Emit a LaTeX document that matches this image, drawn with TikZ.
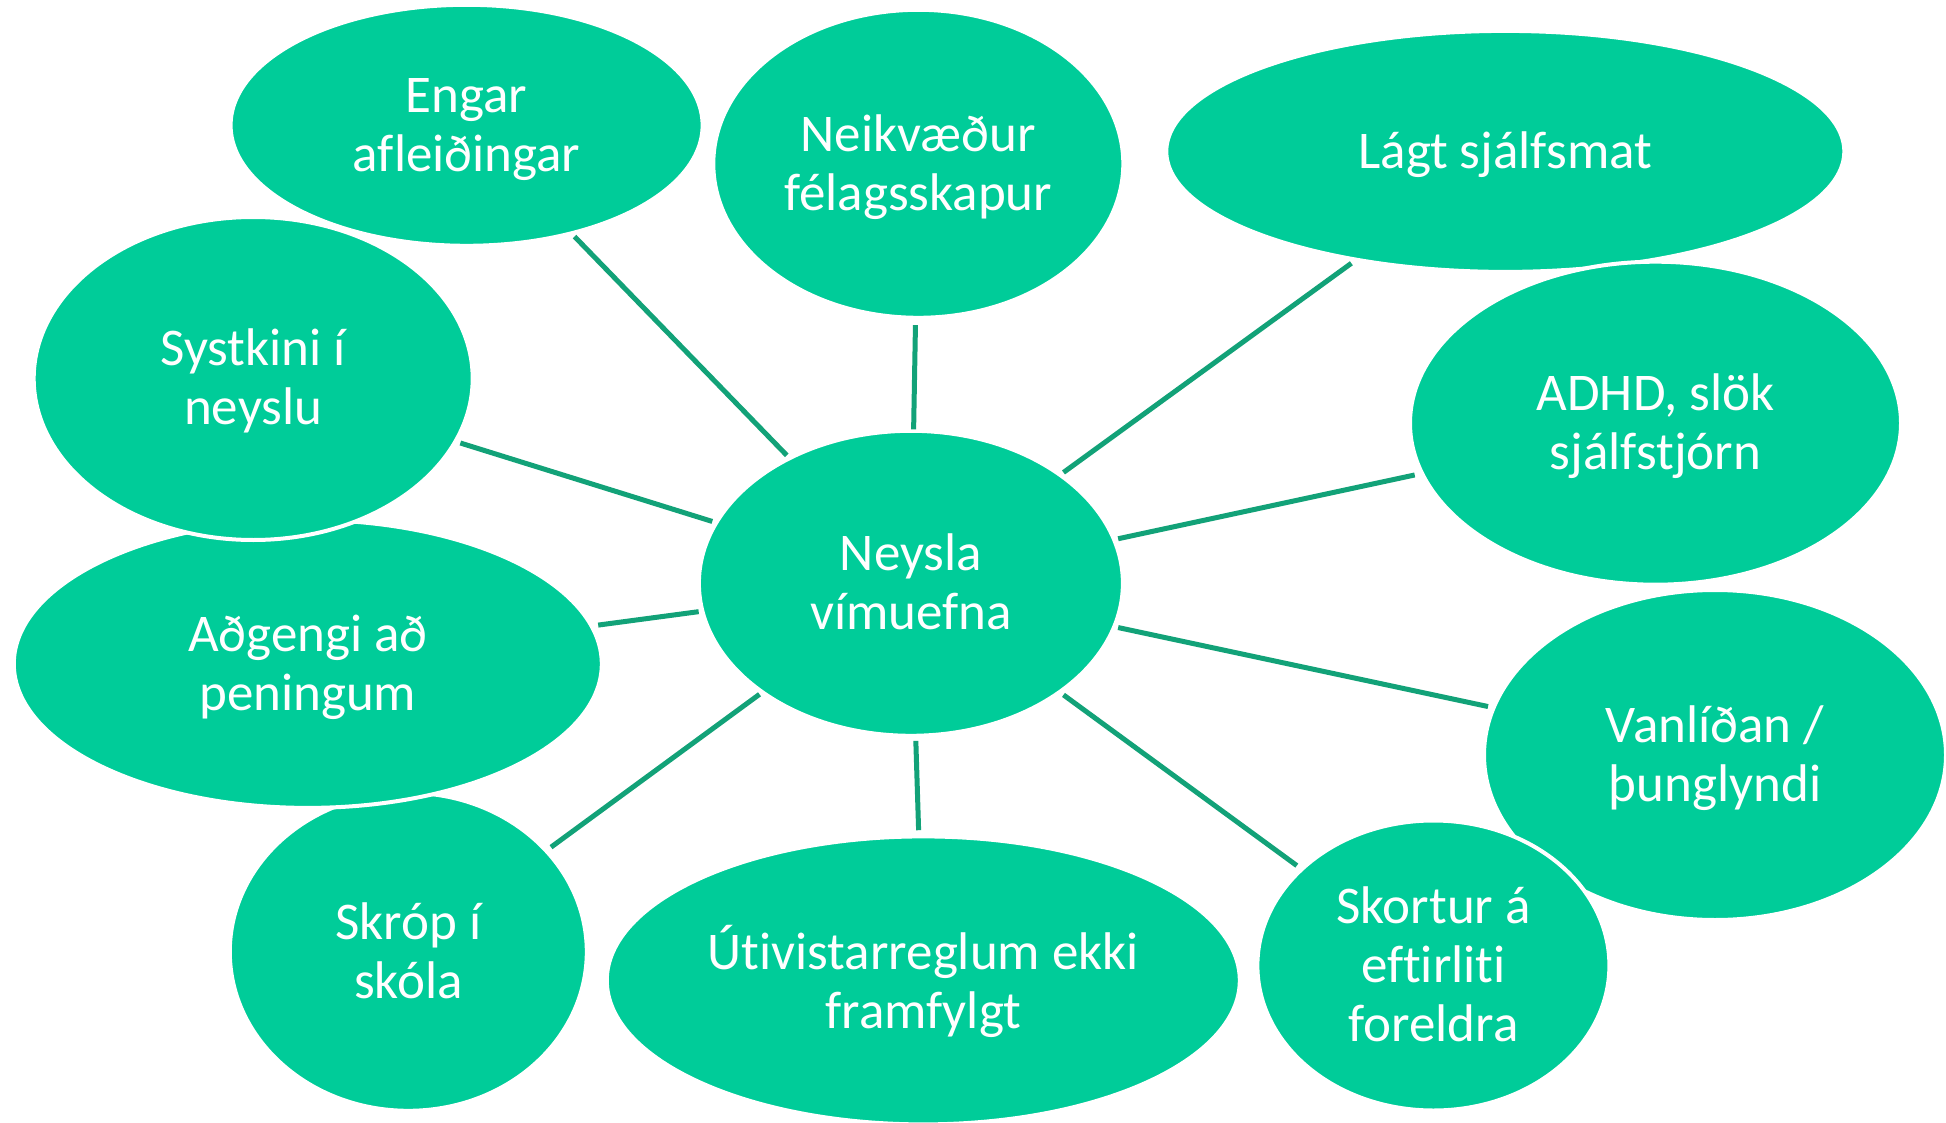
\documentclass[tikz,border=0pt]{standalone}
\usepackage{fontspec}
\setmainfont{Carlito}[Ligatures=NoCommon]
\usetikzlibrary{shapes.geometric,calc}
\definecolor{bubble}{RGB}{0,204,153}
\definecolor{link}{RGB}{18,162,120}
\newcommand{\bubtext}[1]{\raisebox{-5pt}[\height][\depth]{\begin{tabular}{@{}c@{}}#1\end{tabular}}}
\tikzset{
  bub/.style={ellipse, fill=bubble, draw=white, line width=4pt, inner sep=0pt,
    text=white, font=\fontsize{53}{59}\selectfont},
  linkline/.style={draw=link, line width=5pt}
}
\begin{document}
\begin{tikzpicture}[x=1pt,y=-1pt]
\useasboundingbox (0,0) rectangle (1946,1123);
\fill[white] (0,0) rectangle (1946,1123);
% bubbles (drawing order matters for overlaps)
\node[bub, minimum width=357pt, minimum height=318pt] (skrop) at (408.3,951.8) {\bubtext{Skróp í\\skóla}};
\node[bub, minimum width=588pt, minimum height=288pt] (adgengi) at (307.8,663.9) {\bubtext{Aðgengi að\\peningum}};
\node[bub, minimum width=439pt, minimum height=323pt] (systkini) at (253.2,378.5) {\bubtext{Systkini í\\neyslu}};
\node[bub, minimum width=472pt, minimum height=241pt] (engar) at (466.6,125.3) {\bubtext{Engar\\afleiðingar}};
\node[bub, minimum width=410pt, minimum height=308pt] (neikv) at (918.3,163.8) {\bubtext{Neikvæður\\félagsskapur}};
\node[bub, minimum width=678pt, minimum height=241pt] (lagt) at (1505.3,151.4) {\bubtext{Lágt sjálfsmat}};
\node[bub, minimum width=491pt, minimum height=323pt] (adhd) at (1655.5,423.2) {\bubtext{ADHD, slök\\sjálfstjórn}};
\node[bub, minimum width=462pt, minimum height=330pt] (vanl) at (1715,755) {\bubtext{Vanlíðan /\\þunglyndi}};
\node[bub, minimum width=352pt, minimum height=290pt] (skortur) at (1433.4,965.5) {\bubtext{Skortur á\\eftirliti\\foreldra}};
\node[bub, minimum width=633pt, minimum height=288pt] (utivist) at (923.3,980.4) {\bubtext{Útivistarreglum ekki\\framfylgt}};
\node[bub, minimum width=424pt, minimum height=305pt] (neysla) at (910.9,583.3) {\bubtext{Neysla\\vímuefna}};
% connectors
\draw[linkline] ($(neysla.center)!0.2793!(engar.center)$) -- ($(neysla.center)!0.757!(engar.center)$);
\draw[linkline] ($(neysla.center)!0.3669!(neikv.center)$) -- ($(neysla.center)!0.6155!(neikv.center)$);
\draw[linkline] ($(neysla.center)!0.2567!(lagt.center)$) -- ($(neysla.center)!0.741!(lagt.center)$);
\draw[linkline] ($(neysla.center)!0.302!(systkini.center)$) -- ($(neysla.center)!0.685!(systkini.center)$);
\draw[linkline] ($(neysla.center)!0.2783!(adhd.center)$) -- ($(neysla.center)!0.6766!(adhd.center)$);
\draw[linkline] ($(neysla.center)!0.3519!(adgengi.center)$) -- ($(neysla.center)!0.5185!(adgengi.center)$);
\draw[linkline] ($(neysla.center)!0.2577!(vanl.center)$) -- ($(neysla.center)!0.7177!(vanl.center)$);
\draw[linkline] ($(neysla.center)!0.3012!(skrop.center)$) -- ($(neysla.center)!0.716!(skrop.center)$);
\draw[linkline] ($(neysla.center)!0.3969!(utivist.center)$) -- ($(neysla.center)!0.6218!(utivist.center)$);
\draw[linkline] ($(neysla.center)!0.292!(skortur.center)$) -- ($(neysla.center)!0.7386!(skortur.center)$);
\end{tikzpicture}
\end{document}
